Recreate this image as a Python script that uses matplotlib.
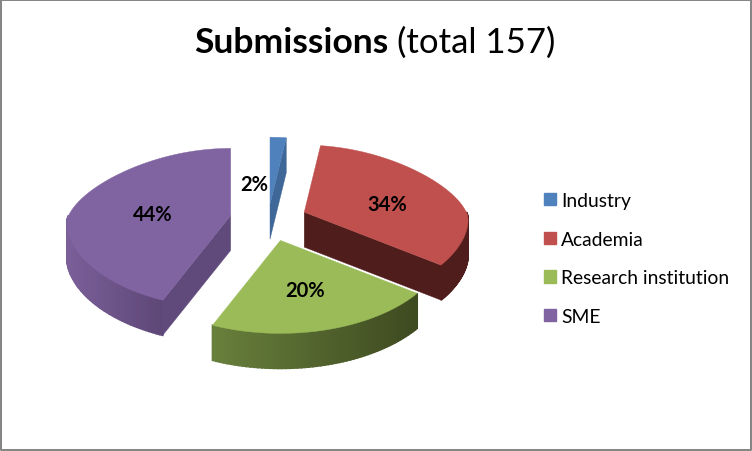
import numpy as np
import matplotlib
matplotlib.use('Agg')
import matplotlib.pyplot as plt
from matplotlib.patches import Patch
from matplotlib.colors import to_rgb

labels = ['Industry', 'Academia', 'Research institution', 'SME']
shares = [2, 34, 20, 44]
explode = [32, 39, 50, 38]

colors = ['#4f81bd', '#c0504d', '#9bbb59', '#8064a2']
wall_left = ['#3f6797', '#4f1e1c', '#68803c', '#7a5f98']
wall_right = ['#3f6797', '#4f1e1c', '#3e4a20', '#5e4878']
cut_colors = ['#3f6797', '#4f1e1c', '#3e4a20', '#604a7b']
label_xy = [(254, 185), (387, 205), (305, 291), (153, 215)]

# fake 3d geometry, all in pixels
cx, cy = 268, 219.6
tilt = 0.45
a_back = 162
widen = 0.15
narrow = 0.2
b_back, b_front = 67, 93
depth = 35

plt.rcParams['font.family'] = ['Lato', 'DejaVu Sans']

fig = plt.figure(figsize=(7.52, 4.52), dpi=100)
ax = fig.add_axes([0, 0, 1, 1])
ax.set_xlim(0, 752)
ax.set_ylim(452, 0)
ax.axis('off')


def rim(theta):
    t = np.radians(theta)
    c = np.cos(t)
    a = a_back * (1 + widen * np.maximum(0, -c) - narrow * np.maximum(0, c))
    y = np.where(c > 0, -b_back * c, b_front * np.abs(c) ** 1.25)
    return a * np.sin(t), y


def draw_wedge(start, end, apex, i):
    # outer wall first, cut in small strips so it can carry a gradient
    lo, hi = max(start, 90), min(end, 270)
    if hi > lo:
        th = np.linspace(lo, hi, 60)
        x, y = rim(th)
        x, y = x + apex[0], y + apex[1]
        s = (x - x.min()) / max(x.max() - x.min(), 1)
        c0, c1 = np.array(to_rgb(wall_left[i])), np.array(to_rgb(wall_right[i]))
        for j in range(len(th) - 1):
            col = c0 + (c1 - c0) * s[j]
            ax.fill([x[j], x[j + 1], x[j + 1], x[j]],
                    [y[j], y[j + 1], y[j + 1] + depth, y[j] + depth],
                    color=col, lw=1.2, zorder=2 + i * 0.1)

    # flat walls along the cuts, only the ones that face the viewer
    for edge, normal in ((end, end + 90), (start, start - 90)):
        if np.cos(np.radians(normal)) < -0.01:
            x, y = rim(np.array([edge]))
            ex, ey = apex[0] + x[0], apex[1] + y[0]
            ax.fill([apex[0], ex, ex, apex[0]],
                    [apex[1], ey, ey + depth, apex[1] + depth],
                    color=cut_colors[i], lw=0.3, zorder=2 + i * 0.1)

    # top face
    th = np.linspace(start, end, 120)
    x, y = rim(th)
    ax.fill(np.r_[apex[0], apex[0] + x], np.r_[apex[1], apex[1] + y],
            color=colors[i], lw=0.3, zorder=2.05 + i * 0.1)


angles = np.r_[0, np.cumsum(shares)] * 3.6
for i in range(len(shares)):
    mid = np.radians((angles[i] + angles[i + 1]) / 2)
    apex = (cx + explode[i] * np.sin(mid), cy - explode[i] * tilt * np.cos(mid))
    draw_wedge(angles[i], angles[i + 1], apex, i)
    ax.text(label_xy[i][0], label_xy[i][1], '%d%%' % shares[i], fontsize=14.5, fontweight='bold',
            ha='center', va='center', color='black', zorder=5)

# title has two weights so it needs two texts
ax.text(388, 43, 'Submissions', fontsize=25.5, fontweight='bold', ha='right', va='center')
ax.text(397, 43, '(total 157)', fontsize=25, ha='left', va='center')

handles = [Patch(color=c) for c in colors]
ax.legend(handles, labels, loc='upper left', bbox_to_anchor=(544 / 752, 1 - 193 / 452),
          frameon=False, fontsize=13.9, handlelength=0.62, handleheight=0.62, handletextpad=0.28,
          labelspacing=1.12, borderpad=0, borderaxespad=0)

# chart frame, sits right on the image edge
ax.plot([1, 1, 751, 751, 1], [1, 451, 451, 1, 1], color='#868686', lw=1.44, clip_on=False)

fig.savefig('out.png', dpi=100)
